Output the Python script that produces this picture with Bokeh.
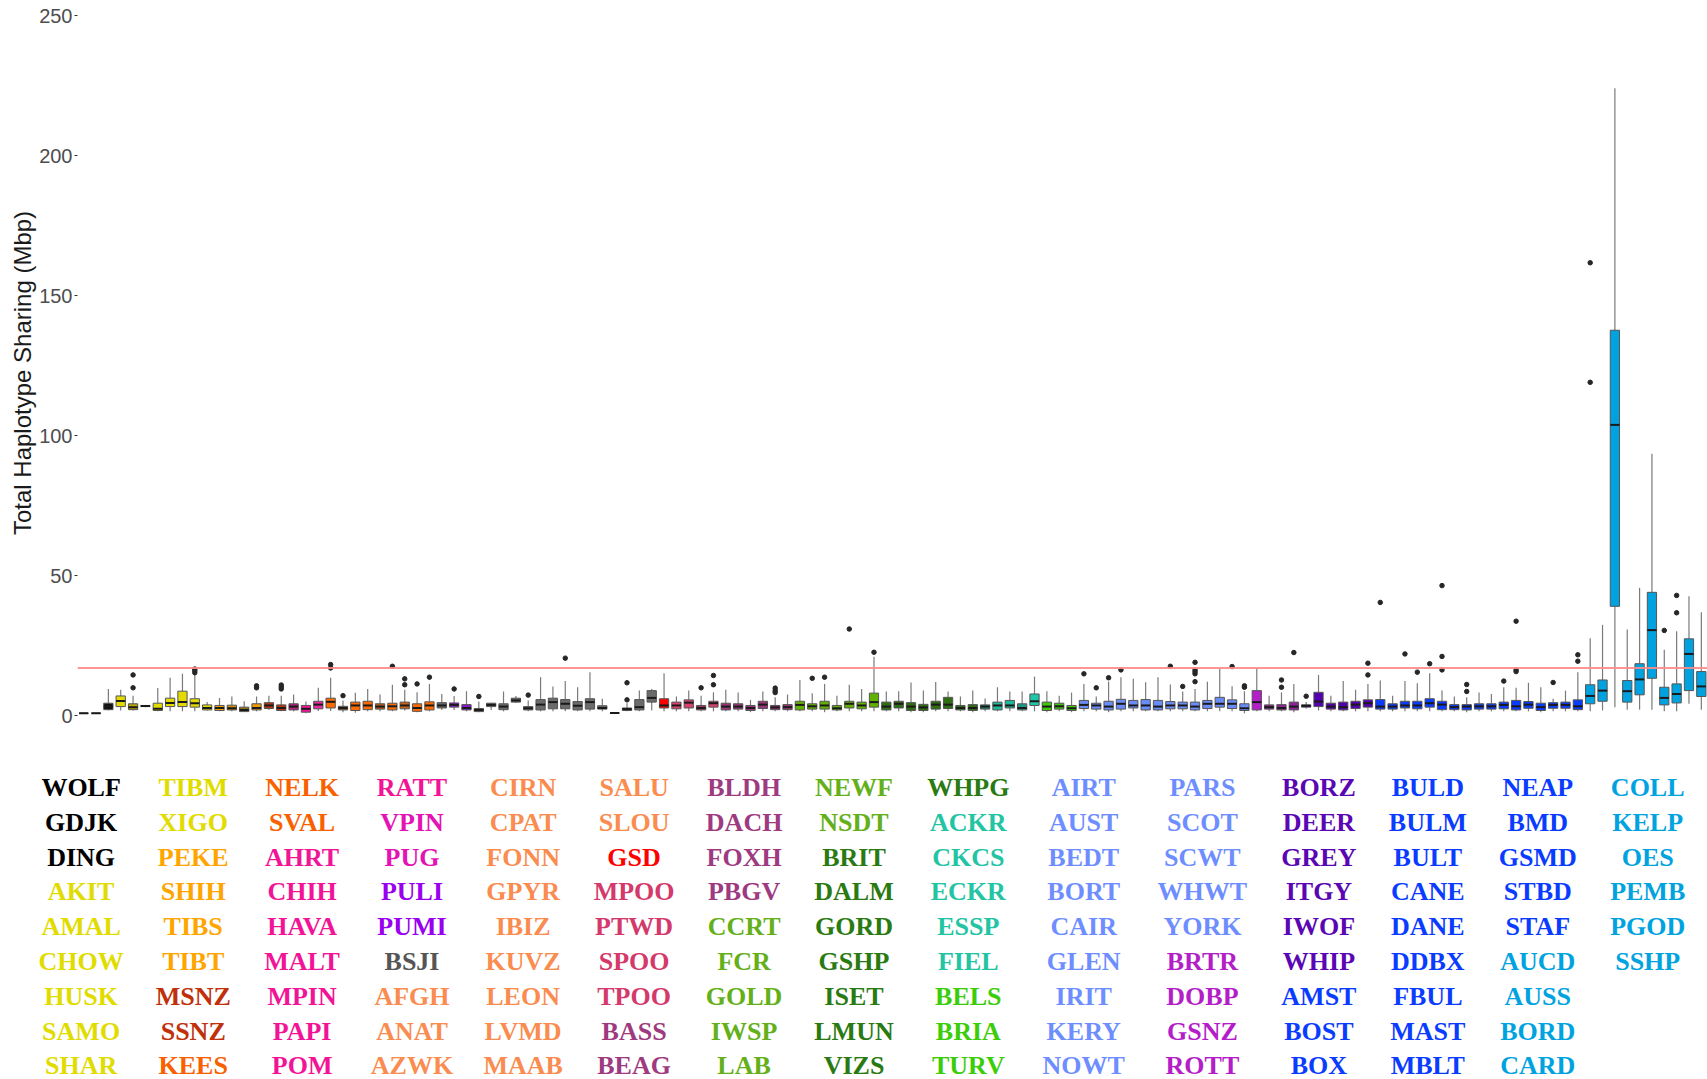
from bokeh.plotting import figure
from bokeh.models import ColumnDataSource, Range1d, FactorRange, FixedTicker, Span
from bokeh.transform import dodge
from bokeh.core.properties import value
from bokeh.embed import file_html
from bokeh.resources import INLINE

# ---------------- data ----------------
breeds = ["WOLF", "GDJK", "DING", "AKIT", "AMAL", "CHOW", "HUSK", "SAMO", "SHAR",
          "TIBM", "XIGO", "PEKE", "SHIH", "TIBS", "TIBT", "MSNZ", "SSNZ", "KEES",
          "NELK", "SVAL", "AHRT", "CHIH", "HAVA", "MALT", "MPIN", "PAPI", "POM",
          "RATT", "VPIN", "PUG", "PULI", "PUMI", "BSJI", "AFGH", "ANAT", "AZWK",
          "CIRN", "CPAT", "FONN", "GPYR", "IBIZ", "KUVZ", "LEON", "LVMD", "MAAB",
          "SALU", "SLOU", "GSD", "MPOO", "PTWD", "SPOO", "TPOO", "BASS", "BEAG",
          "BLDH", "DACH", "FOXH", "PBGV", "CCRT", "FCR", "GOLD", "IWSP", "LAB",
          "NEWF", "NSDT", "BRIT", "DALM", "GORD", "GSHP", "ISET", "LMUN", "VIZS",
          "WHPG", "ACKR", "CKCS", "ECKR", "ESSP", "FIEL", "BELS", "BRIA", "TURV",
          "AIRT", "AUST", "BEDT", "BORT", "CAIR", "GLEN", "IRIT", "KERY", "NOWT",
          "PARS", "SCOT", "SCWT", "WHWT", "YORK", "BRTR", "DOBP", "GSNZ", "ROTT",
          "BORZ", "DEER", "GREY", "ITGY", "IWOF", "WHIP", "AMST", "BOST", "BOX",
          "BULD", "BULM", "BULT", "CANE", "DANE", "DDBX", "FBUL", "MAST", "MBLT",
          "NEAP", "BMD", "GSMD", "STBD", "STAF", "AUCD", "AUSS", "BORD", "CARD",
          "COLL", "KELP", "OES", "PEMB", "PGOD", "SSHP"]

# box statistics (Mbp): lower whisker, Q1, median, Q3, upper whisker
stats = [
    (0.8, 0.8, 0.8, 0.8, 0.8), (0.8, 0.8, 0.8, 0.8, 0.8), (1.8, 2.1, 3.2, 4.4, 9.5),
    (1.8, 3.2, 5.2, 7.0, 9.2), (1.8, 2.1, 3.0, 4.2, 7.1), (3.0, 3.2, 3.4, 3.6, 3.8),
    (1.5, 1.8, 2.4, 4.4, 9.8), (1.5, 3.2, 4.5, 6.2, 13.5), (1.5, 3.2, 4.8, 8.7, 14.9),
    (1.5, 3.0, 4.4, 6.0, 14.6), (1.8, 2.0, 2.7, 3.8, 4.8), (1.5, 1.8, 2.7, 3.6, 6.3),
    (1.5, 2.0, 2.6, 3.7, 6.8), (1.4, 1.4, 2.0, 3.0, 5.1), (1.5, 2.0, 2.7, 4.2, 6.8),
    (2.0, 2.5, 3.6, 4.6, 7.1), (1.5, 1.8, 2.7, 3.8, 7.1), (1.5, 2.0, 3.2, 4.2, 7.5),
    (0.8, 1.2, 2.4, 3.6, 5.0), (1.6, 2.4, 3.9, 5.1, 9.9), (1.6, 2.7, 4.9, 6.2, 13.5),
    (1.2, 2.0, 2.7, 3.3, 5.4), (1.0, 1.8, 3.6, 4.8, 8.1), (1.5, 2.1, 3.6, 5.1, 9.5),
    (1.5, 2.3, 3.2, 4.2, 7.5), (1.5, 2.0, 3.3, 4.4, 11.0), (1.8, 2.4, 3.6, 4.8, 9.2),
    (1.2, 1.5, 2.7, 4.2, 8.3), (1.5, 2.0, 3.6, 4.9, 11.3), (2.0, 2.7, 3.6, 4.6, 7.7),
    (2.0, 3.0, 3.8, 4.5, 7.0), (1.5, 2.0, 2.7, 3.9, 8.7), (1.2, 1.4, 2.0, 2.5, 5.0),
    (2.0, 3.2, 3.8, 4.4, 4.6), (1.5, 2.1, 3.2, 4.2, 8.6), (4.6, 4.8, 5.4, 6.2, 7.0),
    (1.5, 2.0, 2.6, 3.2, 5.4), (1.5, 2.0, 3.9, 5.7, 13.7), (1.5, 2.4, 4.8, 6.2, 10.4),
    (1.5, 2.4, 4.2, 5.7, 12.3), (1.5, 2.0, 3.5, 5.0, 10.1), (1.5, 2.3, 4.8, 6.0, 15.5),
    (1.5, 2.3, 2.7, 3.5, 6.0), (0.9, 0.9, 0.9, 0.9, 0.9), (1.5, 1.8, 2.3, 2.7, 4.4),
    (1.5, 2.0, 3.0, 5.7, 8.9), (1.8, 4.8, 6.3, 8.9, 9.5), (1.5, 2.7, 3.6, 6.0, 15.1),
    (1.5, 2.4, 3.6, 4.8, 6.8), (1.5, 2.7, 4.6, 5.6, 8.9), (1.5, 2.0, 2.7, 3.6, 7.1),
    (1.5, 3.0, 4.4, 5.1, 8.3), (1.5, 2.0, 3.2, 4.4, 9.2), (1.5, 2.3, 3.2, 4.2, 8.2),
    (1.2, 1.8, 2.7, 3.6, 5.6), (1.5, 2.5, 3.9, 5.1, 8.6), (1.5, 2.1, 2.9, 3.6, 6.5),
    (1.5, 2.1, 3.0, 3.9, 7.5), (1.5, 2.0, 3.8, 5.1, 12.7), (1.5, 2.3, 3.3, 4.2, 8.0),
    (1.2, 2.3, 3.6, 5.1, 11.3), (1.5, 2.0, 2.6, 3.6, 7.1), (1.5, 2.7, 4.2, 5.1, 11.0),
    (1.5, 2.4, 3.6, 4.8, 9.5), (1.5, 3.0, 4.8, 8.0, 21.0), (1.5, 2.0, 3.2, 4.8, 8.6),
    (1.5, 2.7, 4.2, 5.1, 8.7), (1.2, 1.8, 3.2, 4.6, 11.8), (1.2, 1.8, 2.9, 4.0, 8.9),
    (1.5, 2.3, 3.9, 5.1, 12.0), (1.5, 2.5, 3.9, 6.5, 8.6), (1.5, 2.0, 2.7, 3.6, 6.8),
    (1.2, 1.8, 2.7, 3.9, 8.9), (1.5, 2.3, 3.2, 3.8, 6.1), (1.5, 2.0, 3.6, 4.8, 10.1),
    (1.5, 2.7, 3.6, 5.4, 8.6), (1.5, 2.0, 2.7, 4.2, 8.6), (1.5, 3.6, 5.1, 7.7, 13.9),
    (1.2, 1.8, 3.2, 4.8, 8.7), (1.5, 2.3, 3.3, 4.4, 7.1), (1.2, 1.8, 2.6, 3.6, 8.2),
    (1.5, 2.5, 3.8, 5.4, 11.3), (1.5, 2.3, 3.6, 4.4, 6.8), (1.2, 2.0, 3.2, 5.1, 12.1),
    (1.5, 2.3, 4.2, 5.8, 13.7), (1.5, 2.7, 3.6, 5.4, 13.1), (1.5, 2.0, 3.6, 5.7, 11.9),
    (1.5, 2.0, 3.2, 5.4, 13.7), (1.5, 2.4, 3.6, 5.0, 11.1), (1.5, 2.4, 3.6, 4.8, 8.6),
    (1.5, 2.0, 3.2, 4.8, 9.5), (1.5, 2.5, 4.2, 5.4, 12.1), (1.5, 3.0, 4.2, 6.5, 16.7),
    (1.5, 2.5, 4.2, 5.6, 10.5), (0.8, 1.8, 2.6, 4.2, 8.7), (1.5, 2.0, 4.8, 8.9, 17.0),
    (1.5, 2.3, 3.0, 3.8, 7.1), (1.5, 2.0, 2.7, 3.9, 8.3), (1.2, 2.0, 3.2, 4.8, 11.3),
    (2.4, 3.0, 3.5, 3.8, 4.8), (1.8, 3.2, 5.0, 8.3, 14.5), (1.5, 2.3, 3.2, 4.4, 7.1),
    (1.5, 2.0, 3.0, 4.8, 12.3), (1.5, 2.5, 3.9, 5.1, 9.2), (1.5, 3.0, 4.4, 5.6, 11.3),
    (1.5, 2.3, 3.2, 5.7, 12.5), (1.5, 2.3, 3.2, 4.2, 7.1), (1.5, 2.7, 3.6, 5.1, 12.3),
    (1.5, 2.4, 3.6, 5.1, 11.5), (1.5, 3.0, 4.4, 6.0, 15.1), (1.5, 2.1, 3.9, 5.1, 8.9),
    (1.5, 2.1, 3.0, 3.9, 6.8), (1.2, 2.0, 3.2, 3.9, 6.5), (1.5, 2.3, 3.3, 4.2, 8.2),
    (1.5, 2.3, 3.3, 4.2, 7.7), (1.5, 2.4, 3.8, 4.8, 10.1), (1.5, 2.0, 3.3, 5.4, 9.9),
    (1.5, 2.6, 3.9, 5.0, 11.7), (1.2, 1.8, 3.0, 4.4, 10.1), (1.5, 2.6, 3.8, 4.6, 6.0),
    (1.5, 2.6, 3.8, 4.8, 8.9), (1.5, 2.1, 3.3, 5.6, 15.5), (1.5, 4.2, 7.0, 11.0, 27.6),
    (1.8, 5.1, 8.9, 12.7, 32.4), (3.0, 39.0, 103.8, 137.6, 224.0), (2.1, 4.8, 8.7, 12.5, 30.7),
    (2.1, 7.4, 12.9, 18.5, 45.6), (2.1, 13.3, 30.5, 44.0, 93.5), (1.5, 3.8, 6.3, 10.1, 23.5),
    (1.5, 4.5, 7.7, 11.3, 30.1), (4.2, 8.9, 22.0, 27.4, 42.6), (2.1, 6.8, 10.4, 15.7, 36.9),
]

outlier_breed = ["AMAL", "AMAL", "TIBM", "TIBM", "TIBM", "TIBT", "TIBT", "SSNZ", "SSNZ", "SSNZ",
                 "AHRT", "AHRT", "CHIH", "PAPI", "POM", "POM", "RATT", "VPIN", "PULI", "BSJI",
                 "CIRN", "GPYR", "MAAB", "MAAB", "SPOO", "TPOO", "TPOO", "FOXH", "FOXH", "FOXH",
                 "FCR", "GOLD", "LAB", "NSDT", "AIRT", "AUST", "BEDT", "BORT", "KERY", "NOWT",
                 "PARS", "PARS", "PARS", "PARS", "PARS", "WHWT", "YORK", "YORK", "GSNZ", "GSNZ",
                 "ROTT", "BORZ", "WHIP", "WHIP", "AMST", "BOX", "BULD", "BULM", "BULT", "BULT",
                 "BULT", "DANE", "DANE", "MAST", "MBLT", "MBLT", "MBLT", "GSMD", "STAF", "STAF",
                 "AUCD", "AUCD", "OES", "PEMB", "PEMB"]
outlier_val = [9.9, 14.5, 15.3, 16.0, 16.6, 9.9, 10.6, 9.5, 10.2, 10.9,
               17.0, 18.2, 7.1, 17.6, 11.0, 13.1, 11.3, 13.7, 9.5, 6.8,
               7.3, 20.5, 5.6, 11.7, 9.9, 11.0, 14.3, 8.2, 8.9, 9.8,
               13.3, 13.7, 30.9, 22.6, 14.9, 9.9, 13.5, 16.3, 17.6, 10.4,
               12.1, 14.9, 15.6, 16.3, 19.0, 17.5, 10.1, 10.6, 10.1, 12.7,
               22.5, 6.9, 14.5, 18.7, 40.4, 22.0, 15.5, 18.5, 16.3, 21.1,
               46.4, 8.6, 11.1, 12.3, 15.7, 16.3, 33.7, 11.8, 19.4, 21.7,
               119.0, 161.7, 30.4, 36.7, 42.9]

threshold = 17.0
y_ticks = [0, 50, 100, 150, 200, 250]

# ---------------- styles ----------------
def runs(spec):
    out = []
    for n, c in spec:
        out += [c] * n
    return out

box_colors = runs([(3, "#111111"), (1, "#E3DB00"), (1, "#B8A600"), (1, "#C9B800"), (5, "#E3DB00"),
                   (1, "#EFA000"), (1, "#D18E08"), (1, "#8F6A12"), (1, "#F09A00"), (2, "#B8320C"),
                   (1, "#B4207E"), (1, "#F0149B"), (1, "#E82A9E"), (1, "#FF6A00"), (1, "#8A4A1A"),
                   (2, "#FF6A00"), (1, "#B8581A"), (1, "#FF6A00"), (1, "#C8601A"), (2, "#FF6A00"),
                   (1, "#6B6B6B"), (2, "#8A14D0"), (1, "#6A4A2A"), (14, "#6B6B6B"), (1, "#FF0000"),
                   (2, "#D8406E"), (1, "#A03060"), (1, "#D8406E"), (6, "#9A3478"), (7, "#62B000"),
                   (8, "#2E6E12"), (1, "#1E8070"), (2, "#1FB89A"), (1, "#1E9A86"), (1, "#1FC7A8"),
                   (3, "#3CC80A"), (14, "#6A8CF8"), (1, "#B41EC8"), (3, "#8E2298"), (6, "#5200B0"),
                   (17, "#0A3CFF"), (10, "#00A3E0")])

label_colors = runs([(3, "#000000"), (8, "#E1DC00"), (4, "#FFA500"), (2, "#C0300A"), (3, "#F86000"),
                     (8, "#F21496"), (2, "#E413B4"), (2, "#9A00F0"), (1, "#555555"), (14, "#FA8C50"),
                     (1, "#FF0000"), (4, "#D4396C"), (6, "#9E3A80"), (7, "#64B01A"), (8, "#2A7A12"),
                     (5, "#22C4A4"), (3, "#3CCD0A"), (14, "#6E8EFF"), (4, "#B41EC8"), (6, "#5A06B4"),
                     (17, "#0A3CFF"), (10, "#00A3E0")])

W = 1707
TOP_H = 745
LEG_H = 1079 - TOP_H
legend_col_x = [80.6, 192.7, 301.6, 411.5, 522.6, 633.6, 743.6, 853.5, 967.8,
                1083.2, 1201.9, 1318.4, 1427.3, 1537.3, 1647.2]
legend_rows = 9
legend_row0 = 42
legend_row_step = 34.8

# ---------------- box plot ----------------
src = ColumnDataSource(dict(
    breed=breeds,
    lo=[s[0] for s in stats], q1=[s[1] for s in stats], med=[s[2] for s in stats],
    q3=[s[3] for s in stats], hi=[s[4] for s in stats], color=box_colors,
))

p = figure(width=W, height=TOP_H, x_range=FactorRange(*breeds),
           y_range=Range1d(-10.7, 255.36), output_backend="svg", toolbar_location=None,
           min_border_left=77, min_border_right=0, min_border_top=0, min_border_bottom=0)
p.background_fill_color = "white"
p.border_fill_color = "white"
p.outline_line_color = None
p.xgrid.visible = False
p.ygrid.visible = False
p.xaxis.visible = False

ax = p.yaxis[0]
ax.ticker = FixedTicker(ticks=y_ticks)
ax.axis_line_color = None
ax.major_tick_line_color = "#333333"
ax.major_tick_in = 0
ax.major_tick_out = 3
ax.minor_tick_line_color = None
ax.major_label_standoff = 2
ax.major_label_text_font = "Liberation Sans"
ax.major_label_text_font_size = "20px"
ax.major_label_text_color = "#4D4D4D"
ax.axis_label = "Total Haplotype Sharing (Mbp)"
ax.axis_label_text_font = "Liberation Sans"
ax.axis_label_text_font_size = "24px"
ax.axis_label_text_font_style = "normal"
ax.axis_label_text_color = "#1A1A1A"
ax.axis_label_standoff = 0

p.add_layout(Span(location=threshold, dimension="width", line_color="#FF8A8A",
                  line_width=2, line_alpha=0.9))

p.segment(x0="breed", y0="lo", x1="breed", y1="q1", source=src, line_color="#7A7A7A", line_width=1.2)
p.segment(x0="breed", y0="q3", x1="breed", y1="hi", source=src, line_color="#7A7A7A", line_width=1.2)
p.vbar(x="breed", width=0.75, bottom="q1", top="q3", source=src, fill_color="color",
       line_color="#555555", line_width=1)
p.segment(x0=dodge("breed", -0.375, range=p.x_range), y0="med",
          x1=dodge("breed", 0.375, range=p.x_range), y1="med",
          source=src, line_color="#1A1A1A", line_width=2)
p.scatter(x=outlier_breed, y=outlier_val, size=4.5, color="#262626")

# ---------------- legend (breed names) ----------------
lg = figure(width=W, height=LEG_H, x_range=Range1d(0, W), y_range=Range1d(LEG_H, 0),
            output_backend="svg", toolbar_location=None,
            min_border_left=0, min_border_right=0, min_border_top=0, min_border_bottom=0)
lg.xaxis.visible = False
lg.yaxis.visible = False
lg.grid.visible = False
lg.outline_line_color = None
lg.background_fill_color = "white"
lg.border_fill_color = "white"

lsrc = ColumnDataSource(dict(
    x=[legend_col_x[i // legend_rows] for i in range(len(breeds))],
    y=[legend_row0 + legend_row_step * (i % legend_rows) for i in range(len(breeds))],
    text=breeds, color=label_colors,
))
lg.text(x="x", y="y", text="text", source=lsrc, text_color="color",
        text_font=value("Liberation Serif"), text_font_style="bold", text_font_size="26px",
        text_align="center", text_baseline="middle")

# two independent roots, stacked vertically on the page (no frame alignment between them)
open("out.html", "w").write(file_html([p, lg], INLINE))
